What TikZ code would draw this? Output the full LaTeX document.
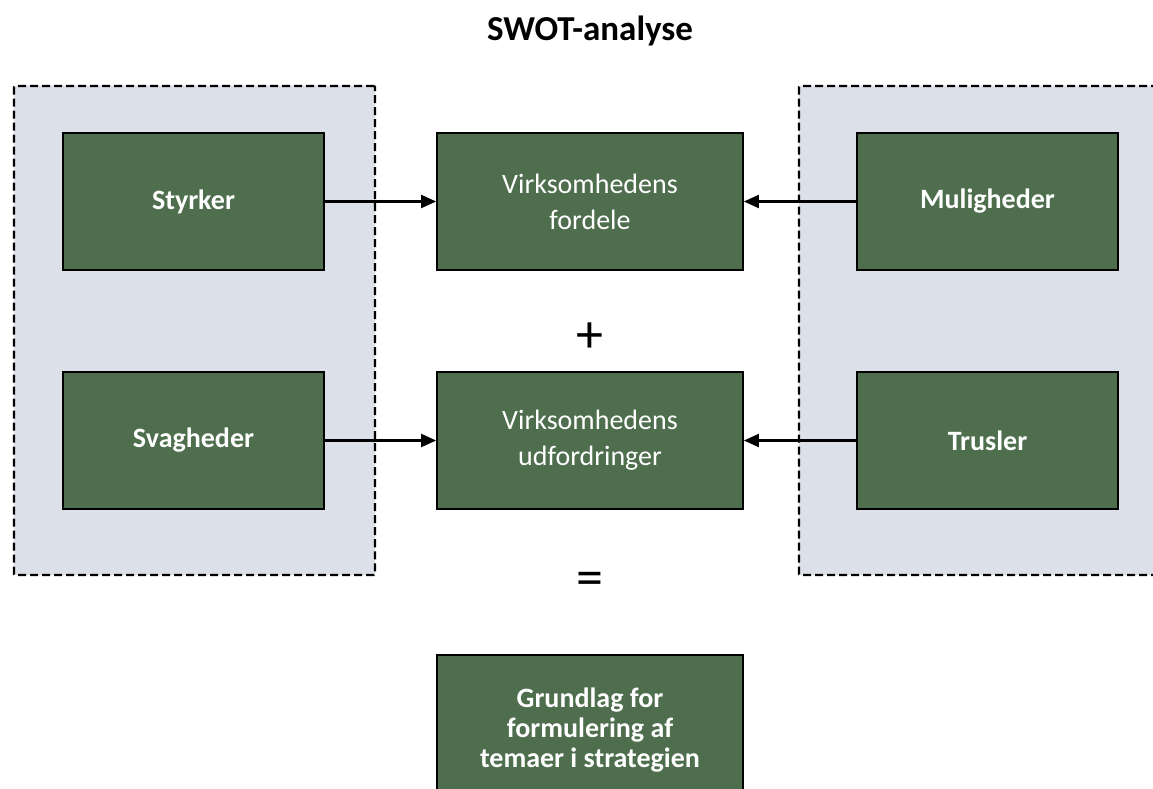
\documentclass[tikz,border=0pt]{standalone}
\usepackage{fontspec}
\setmainfont{Carlito}
\usetikzlibrary{arrows.meta, positioning}
\definecolor{boxgreen}{RGB}{78,110,78}
\definecolor{panelgrey}{RGB}{220,224,233}

\begin{document}
\begin{tikzpicture}[
    x=1pt, y=-1pt,
    panel/.style={draw, fill=panelgrey, line width=2.4pt, dash pattern=on 8pt off 4pt,
      rounded corners=1pt, minimum width=361pt, minimum height=489pt},
    swot/.style={draw, fill=boxgreen, text=white, line width=1.8pt, align=center,
      minimum width=261pt, minimum height=137pt, font=\fontsize{28}{30}\selectfont\bfseries},
    result/.style={swot, minimum width=306pt, font=\fontsize{28}{36}\selectfont},
    sign/.style={font=\fontsize{54}{54}\selectfont},
    link/.style={-{Triangle[length=15pt,width=13pt]}, line width=2.2pt}
  ]
    \clip (0,0) rectangle (1153,789);
    \node[font=\fontsize{35}{40}\selectfont\bfseries] (title) at (590,31) {SWOT-analyse};

    % interne og eksterne faktorer
    \node[panel] (intern) at (194.5,330.5) {};
    \node[panel] (ekstern) at (979.5,330.5) {};

    \node[swot] (styrker) at (193.5,201.5) {Styrker};
    \node[swot] (svagheder) at (193.5,440.5) {Svagheder};
    \node[swot] (muligheder) at (987.5,201.5) {Muligheder};
    \node[swot] (trusler) at (987.5,440.5) {Trusler};

    \node[result] (fordele) at (590,201.5) {Virksomhedens\\fordele};
    \node[result] (udfordringer) at (590,440.5) {Virksomhedens\\udfordringer};

    \node[sign] (plus) at (590,338) {+};
    \node[sign] (lig) at (590,584) {=};

    \node[swot, minimum width=306pt, minimum height=150pt] (grundlag) at (590,730)
      {Grundlag for\\formulering af\\temaer i strategien};

    \draw[link] (styrker) -- (fordele);
    \draw[link] (muligheder) -- (fordele);
    \draw[link] (svagheder) -- (udfordringer);
    \draw[link] (trusler) -- (udfordringer);
  \end{tikzpicture}
\end{document}
